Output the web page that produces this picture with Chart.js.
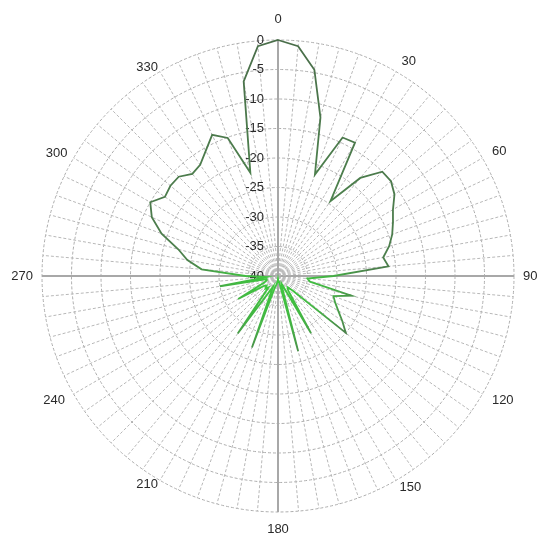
<!DOCTYPE html>
<html>
<head>
<meta charset="utf-8">
<style>
  html, body { margin: 0; padding: 0; background: #fff; overflow: hidden; }
  /* a little wider than the window so the plot centre sits right of middle, like the original */
  #wrap { width: 550px; height: 537px; }
</style>
</head>
<body>
<div id="wrap"><canvas id="pattern"></canvas></div>
<script src="https://cdn.jsdelivr.net/npm/chart.js@4.4.0/dist/chart.umd.min.js"></script>
<script>
// azimuth in degrees, one spoke every 5
const angles = [
  0, 5, 10, 15, 20, 25, 30, 35, 40, 45, 50, 55,
  60, 65, 70, 75, 80, 85, 90, 95, 100, 105, 110, 115,
  120, 125, 130, 135, 140, 145, 150, 155, 160, 165, 170, 175,
  180, 185, 190, 195, 200, 205, 210, 215, 220, 225, 230, 235,
  240, 245, 250, 255, 260, 265, 270, 275, 280, 285, 290, 295,
  300, 305, 310, 315, 320, 325, 330, 335, 340, 345, 350, 355
];

// relative gain in dB
const gainDb = [
  0, -0.9, -4.5, -12.2, -21.7, -14.1, -13.9, -24.5, -18.3, -15.0, -15.0, -15.9,
  -17.5, -18.5, -19.4, -20.5, -21.9, -21.2, -30.6, -35.0, -34.5, -27.1, -30.0, -29.3,
  -28.2, -26.7, -25.0, -36.5, -37.5, -37.0, -28.8, -38.5, -38.0, -26.8, -39.0, -39.0,
  -39.5, -39.0, -38.5, -38.0, -27.1, -38.0, -36.5, -28.1, -37.5, -37.0, -37.5, -37.0,
  -32.2, -37.5, -38.0, -38.0, -30.0, -38.0, -34.5, -27.0, -24.4, -22.5, -19.0, -16.4,
  -15.0, -16.6, -16.2, -16.2, -17.4, -17.0, -15.5, -13.6, -15.1, -21.9, -6.5, -0.9
];

// ring labels along the 0 degree axis
const dbTicks = [0, -5, -10, -15, -20, -25, -30, -35, -40];

// gap between outer ring and each shown angle label (0, 30, ... 330)
const labelGap = [20, 11, 11, 9, 11, 7, 16, 4, 10, 9, 7, 4];

const labelFont = '"Liberation Sans", Arial, sans-serif';

// ring values drawn just left of the vertical axis
const ringLabels = {
  id: 'ringLabels',
  beforeDatasetsDraw(chart) {
    const r = chart.scales.r;
    const ctx = chart.ctx;
    ctx.save();
    ctx.font = '13px ' + labelFont;
    ctx.fillStyle = '#2a2a2a';
    ctx.textAlign = 'right';
    ctx.textBaseline = 'middle';
    dbTicks.forEach(v => {
      const d = r.getDistanceFromCenterForValue(v);
      ctx.fillText(String(v), r.xCenter - 14, r.yCenter - d);
    });
    ctx.restore();
  }
};

// trace is bright green near the centre, dark green further out
function traceColor(c) {
  const r = c.chart.scales.r;
  if (!r || !r.drawingArea) return '#4d7a4d';
  const g = c.chart.ctx.createRadialGradient(r.xCenter, r.yCenter, 0, r.xCenter, r.yCenter, r.drawingArea);
  g.addColorStop(0, '#3ccc3c');
  g.addColorStop(0.22, '#44b344');
  g.addColorStop(0.38, '#4d824d');
  g.addColorStop(1, '#4a6e4a');
  return g;
}

const isAxis = i => i % 18 === 0;

new Chart(document.getElementById('pattern'), {
  type: 'radar',
  data: {
    labels: angles.map(String),
    datasets: [{
      data: gainDb,
      borderColor: traceColor,
      borderWidth: 1.8,
      pointRadius: 0,
      fill: false,
      tension: 0
    }]
  },
  options: {
    responsive: true,
    maintainAspectRatio: false,
    animation: false,
    layout: { padding: { left: 0, right: 0, top: 16, bottom: 5 } },
    plugins: { legend: { display: false }, tooltip: { enabled: false } },
    scales: {
      r: {
        min: -40,
        max: 0,
        ticks: { stepSize: 5, display: false },
        grid: { circular: true, color: '#adadad', lineWidth: 1 },
        border: { dash: [3, 2] },
        angleLines: {
          color: c => isAxis(c.index) ? '#a8a8a8' : '#b8b8b8',
          lineWidth: c => isAxis(c.index) ? 2 : 1,
          borderDash: c => isAxis(c.index) ? [] : [3, 2]
        },
        pointLabels: {
          callback: (label, i) => i % 6 === 0 ? label : '',
          // tiny line height keeps each label centred on its anchor point
          font: { size: 13, family: labelFont, lineHeight: '2px' },
          color: '#2a2a2a',
          padding: c => c.index % 6 === 0 ? labelGap[c.index / 6] : 0
        }
      }
    }
  },
  plugins: [ringLabels]
});
</script>
</body>
</html>
